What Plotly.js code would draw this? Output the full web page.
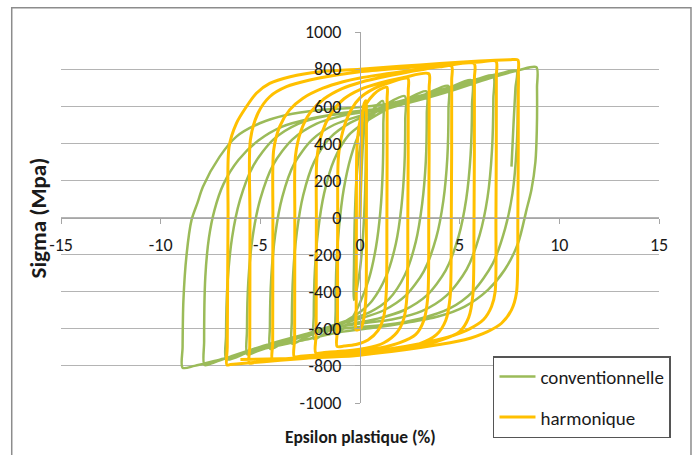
<!DOCTYPE html>
<html><head><meta charset="utf-8">
<script src="https://cdn.plot.ly/plotly-3.0.1.min.js"></script>
<style>html,body{margin:0;padding:0;background:#fff}#chart{width:697px;height:455px}</style>
</head><body><div id="chart"></div>
<script>
// Epsilon plastique (%) , Sigma (MPa) points
const conventionnelle = [
[0,0],[0.1,300],[0.22,520],[0.3,610],
[0.3,420],[0.26,150],[0.15,-100],[0,-280],[-0.15,-380],[-0.3,-445],
[-0.3,-250],[-0.26,0],[-0.18,200],[-0.05,340],[0.15,450],[0.45,540],[0.8,600],[1.15,628],
[1.17,500],[1.14,250],[1.02,30],[0.8,-160],[0.45,-330],[0,-460],[-0.5,-560],[-0.9,-605],[-1.2,-630],
[-1.22,-500],[-1.18,-250],[-1.05,-50],[-0.82,150],[-0.45,330],[0,460],[0.6,550],[1.4,615],[2.25,654],
[2.27,530],[2.23,280],[2.08,60],[1.8,-140],[1.3,-320],[0.6,-450],[0,-510],[-0.9,-570],[-1.7,-620],[-2.3,-655],
[-2.32,-530],[-2.26,-280],[-2.1,-70],[-1.8,130],[-1.3,310],[-0.6,440],[0.2,510],[1.2,575],[2.3,635],[3.33,680],
[3.35,560],[3.3,300],[3.12,75],[2.8,-130],[2.25,-310],[1.45,-440],[0.5,-510],[-0.5,-550],[-1.8,-600],[-2.8,-650],[-3.4,-680],
[-3.42,-560],[-3.35,-300],[-3.17,-80],[-2.85,120],[-2.3,300],[-1.5,430],[-0.5,510],[0.7,565],[2,615],[3.3,665],[4.42,710],
[4.44,590],[4.38,320],[4.18,90],[3.82,-110],[3.2,-290],[2.3,-420],[1.2,-500],[0,-545],[-1.4,-585],[-3,-640],[-4,-685],[-4.5,-708],
[-4.52,-590],[-4.45,-320],[-4.25,-90],[-3.9,110],[-3.3,290],[-2.4,420],[-1.3,500],[0,548],[1.5,590],[3,640],[4.4,695],[5.6,740],
[5.62,610],[5.55,340],[5.33,100],[4.95,-100],[4.3,-285],[3.35,-420],[2.2,-500],[0.9,-545],[-0.5,-575],[-2.2,-620],[-4,-680],[-5.1,-718],[-5.65,-738],
[-5.67,-610],[-5.6,-340],[-5.38,-100],[-5,100],[-4.35,285],[-3.4,420],[-2.2,505],[-0.9,548],[0.5,575],[2,615],[3.8,670],[5.4,725],[6.67,765],
[6.69,640],[6.62,360],[6.4,110],[6.0,-95],[5.35,-280],[4.35,-420],[3.1,-505],[1.6,-550],[0,-572],[-1.8,-605],[-3.8,-660],[-5.6,-725],[-6.7,-765],
[-6.72,-640],[-6.65,-360],[-6.42,-110],[-6.02,95],[-5.35,280],[-4.35,420],[-3.1,505],[-1.6,550],[0,572],[1.8,605],[3.8,660],[5.8,730],[7.2,772],[7.9,790],
[7.92,670],[7.86,380],[7.65,130],[7.28,-60],[6.65,-250],[5.7,-395],[4.5,-490],[3.0,-545],[1.3,-578],[-0.5,-595],[-2.5,-625],[-4.5,-680],[-6.5,-750],[-7.3,-780],[-7.8,-795],
[-7.82,-670],[-7.76,-320],[-7.58,-110],[-7.3,40],[-6.85,180],[-6.1,310],[-5.1,415],[-3.9,490],[-2.4,535],[-0.8,565],[0.8,585],[2.5,620],[4.5,680],[6.5,750],[8,795],[8.85,810],
[8.88,700],[8.87,471],[8.8,300],[8.6,150],[8.35,40],[7.93,-138],[7.26,-282],[6.42,-390],[5.25,-480],[3.91,-534],[2.24,-569],[0.57,-596],[-1,-618],[-3,-665],[-5,-712],[-7,-765],[-8.3,-800],[-8.9,-810],
[-8.9,-700],[-8.86,-450],[-8.7,-200],[-8.45,-13],[-8.15,80],[-7.88,166],[-7.04,328],[-6.2,436],[-5.03,508],[-3.7,553],[-2.02,580],[-0.37,592],[1.5,615],[3.5,670],[5.5,735],[7,775],[7.85,790],
[7.8,700],[7.7,500],[7.6,274]
];
const harmonique = [
[0,0],[0.05,350],[0.12,540],[0.2,612],[0.3,630],
[0.32,560],[0.32,0],[0.3,-420],[0.2,-540],[0.05,-595],[-0.1,-605],[-0.2,-605],
[-0.19,-500],[-0.18,0],[-0.15,380],[0,520],[0.3,610],[0.7,665],[1.0,690],[1.35,702],
[1.36,640],[1.35,0],[1.32,-400],[1.2,-530],[0.9,-610],[0.4,-660],[-0.2,-685],[-0.8,-693],[-1.15,-695],
[-1.13,-600],[-1.12,0],[-1.08,330],[-0.85,470],[-0.45,580],[0,645],[0.7,695],[1.5,728],[2.4,750],
[2.42,680],[2.4,0],[2.36,-420],[2.2,-545],[1.85,-620],[1.2,-675],[0.3,-705],[-0.8,-720],[-1.8,-728],[-2.22,-730],
[-2.2,-630],[-2.19,0],[-2.16,320],[-1.9,460],[-1.45,560],[-0.8,640],[0,690],[1,725],[2.2,755],[3.45,775],
[3.47,700],[3.45,0],[3.4,-430],[3.2,-555],[2.8,-630],[2.0,-675],[1.0,-704],[0,-720],[-1.5,-736],[-3.0,-748],[-3.3,-750],
[-3.28,-650],[-3.27,0],[-3.24,330],[-2.95,470],[-2.5,565],[-1.8,640],[-0.9,695],[0,728],[1.5,765],[3,795],[4.58,817],
[4.6,740],[4.58,0],[4.52,-430],[4.3,-555],[3.85,-630],[3.0,-680],[1.8,-708],[0.5,-724],[-1,-738],[-2.8,-754],[-4.2,-765],[-4.4,-767],
[-4.38,-670],[-4.37,0],[-4.33,364],[-4.03,490],[-3.53,580],[-2.86,643],[-1.86,697],[-0.85,732],[0,752],[2,785],[4,812],[5.72,831],
[5.74,750],[5.72,0],[5.66,-420],[5.45,-540],[5.0,-615],[4.1,-660],[2.8,-695],[1.2,-718],[0,-731],[-1.8,-748],[-3.8,-766],[-5.3,-782],[-5.55,-785],
[-5.53,-690],[-5.52,0],[-5.5,418],[-5.12,562],[-4.53,651],[-3.69,705],[-2.52,741],[-1.18,768],[0,786],[2,805],[4,822],[6,838],[6.82,843],
[6.84,760],[6.82,0],[6.78,-400],[6.6,-480],[6.2,-550],[5.5,-600],[4.4,-645],[3,-680],[1.3,-712],[0,-730],[-2,-752],[-4,-770],[-5.8,-786],[-6.5,-793],[-6.68,-795],
[-6.66,-700],[-6.62,0],[-6.57,380],[-6.2,508],[-5.7,597],[-5.2,670],[-4.53,723],[-3.5,759],[-2.0,786],[0,799],[2,815],[4,830],[6,843],[7.5,850],[7.92,849],
[7.94,770],[7.92,0],[7.85,-406],[7.6,-498],[7.1,-570],[6.4,-615],[5.25,-659],[3.9,-686],[2.24,-713],[0.57,-735],[-0.27,-745],[-2,-755],[-4,-762],[-6.0,-766]
];
const xTicks = [-15,-10,-5,0,5,10,15];
const yTicks = [-1000,-800,-600,-400,-200,0,200,400,600,800,1000];
const seriesNames = ['conventionnelle','harmonique'];
const seriesColors = ['#9BBB59','#FFC000'];

const FONT = 'Carlito, Lato, sans-serif';
const traces = [conventionnelle, harmonique].map((pts, i) => ({
  type: 'scatter', mode: 'lines', name: seriesNames[i], legendgroup: 'g' + i,
  x: pts.map(p => p[0]), y: pts.map(p => p[1]),
  line: {color: seriesColors[i], width: i === 0 ? 2.5 : 3, shape: 'spline', smoothing: 0.8}
}));

const layout = {
  width: 697, height: 455,
  margin: {l: 61, r: 38, t: 32, b: 52},
  paper_bgcolor: '#fff', plot_bgcolor: '#fff',
  font: {family: FONT, size: 18, color: '#1a1a1a'},
  showlegend: true,
  legend: {x: 0.7224, y: 0.1266, xanchor: 'left', yanchor: 'top', bgcolor: '#fff',
           bordercolor: '#555', borderwidth: 1.5, tracegroupgap: 13, itemwidth: 36,
           entrywidth: 128, entrywidthmode: 'pixels',
           font: {family: FONT, size: 19, color: '#1a1a1a'}},
  xaxis: {range: [-15, 15], tickvals: xTicks, ticktext: xTicks.map(String),
          showgrid: false, zeroline: false, showline: true, linecolor: '#A6A6A6', linewidth: 1,
          ticks: 'outside', ticklen: 5, tickcolor: '#A6A6A6', anchor: 'free', position: 0.5,
          ticklabelstandoff: 6, tickfont: {family: FONT, size: 18, color: '#1a1a1a'}, fixedrange: true},
  yaxis: {range: [-1000, 1000], tickvals: yTicks, ticktext: yTicks.map(String),
          showgrid: true, gridcolor: '#B4B4B4', gridwidth: 1, zeroline: false,
          showline: true, linecolor: '#A6A6A6', linewidth: 1,
          ticks: 'outside', ticklen: 5, tickcolor: '#A6A6A6', anchor: 'free', position: 0.5,
          ticklabelstandoff: 10, tickfont: {family: FONT, size: 18, color: '#1a1a1a'}, fixedrange: true},
  annotations: [
    {text: '<b>Sigma (Mpa)</b>', xref: 'paper', yref: 'paper', x: -0.0385, y: 0.5,
     xanchor: 'center', yanchor: 'middle',
     textangle: -90, showarrow: false, font: {family: FONT, size: 23, color: '#1a1a1a'}},
    {text: '<b>Epsilon plastique (%)</b>', xref: 'paper', yref: 'paper', x: 0.5, y: -0.0916,
     xanchor: 'center', yanchor: 'middle',
     showarrow: false, font: {family: FONT, size: 17.5, color: '#1a1a1a'}}
  ],
  shapes: [
    {type: 'rect', xref: 'paper', yref: 'paper', x0: -0.0824, x1: 1.0535, y0: -0.16, y1: 1.0657,
     line: {color: '#8C8C8C', width: 1.5}, fillcolor: 'rgba(0,0,0,0)', layer: 'below'}
  ]
};
Plotly.newPlot('chart', traces, layout, {displayModeBar: false, staticPlot: true});
</script></body></html>
